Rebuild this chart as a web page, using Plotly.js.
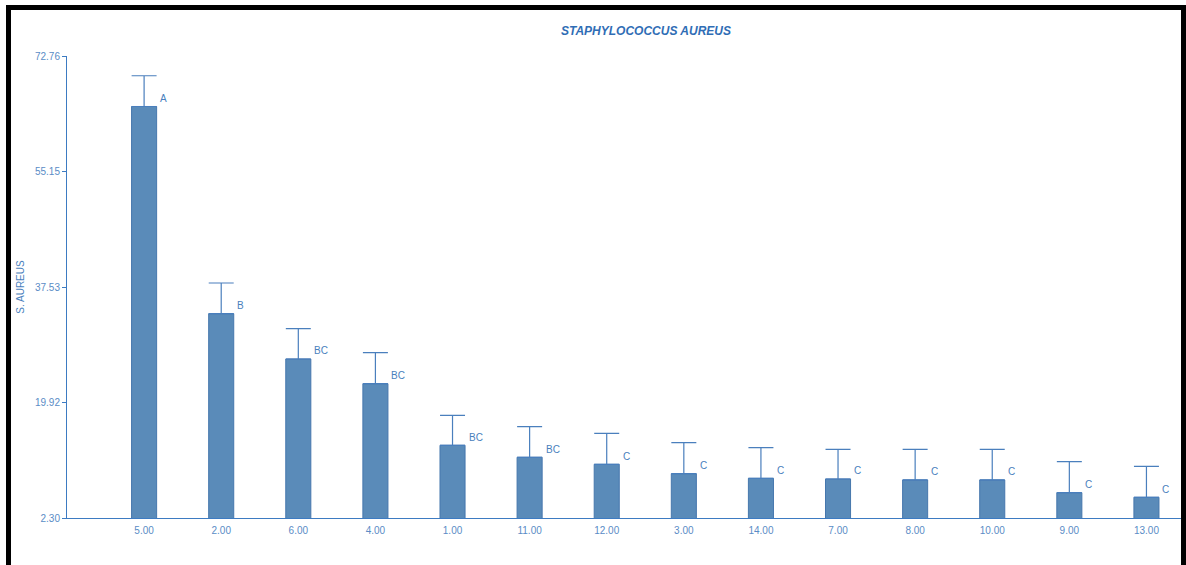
<!DOCTYPE html>
<html>
<head>
<meta charset="utf-8">
<script src="https://cdn.plot.ly/plotly-3.0.1.min.js"></script>
<style>
html,body{margin:0;padding:0;background:#fff;}
#wrap{position:relative;width:1186px;height:565px;overflow:hidden;}
#chart{width:1186px;height:565px;}
#frame{position:absolute;left:6px;top:5px;width:1170px;height:600px;border-top:5px solid #000;border-left:5px solid #000;border-right:5px solid #000;pointer-events:none;}
</style>
</head>
<body>
<div id="wrap">
<div id="chart"></div>
<div id="frame"></div>
</div>
<script>
const categories = ['5.00','2.00','6.00','4.00','1.00','11.00','12.00','3.00','14.00','7.00','8.00','10.00','9.00','13.00'];
const means = [65.06, 33.46, 26.55, 22.78, 13.39, 11.56, 10.49, 9.06, 8.35, 8.25, 8.10, 8.10, 6.16, 5.46];
const errors = [4.69, 4.68, 4.62, 4.73, 4.57, 4.67, 4.72, 4.73, 4.67, 4.52, 4.67, 4.67, 4.73, 4.72];
const letters = ['A','B','BC','BC','BC','BC','C','C','C','C','C','C','C','C'];
const yTicks = [2.30, 19.92, 37.53, 55.15, 72.76];

const blue = '#4a7fbd';
const tickBlue = '#5a8cc6';

const trace = {
  type: 'bar',
  x: categories,
  y: means,
  width: 0.325,
  marker: {color: '#5a8bb9', line: {color: '#4677ad', width: 1}},
  error_y: {
    type: 'data', symmetric: false, array: errors,
    arrayminus: errors.map(() => 0),
    color: '#4a7fbd', thickness: 1.2, width: 12.5
  },
  hoverinfo: 'x+y'
};

const annotations = categories.map((c, i) => ({
  x: i, y: means[i], xref: 'x', yref: 'y',
  text: letters[i], showarrow: false,
  xanchor: 'left', yanchor: 'middle', xshift: 14, yshift: 8,
  font: {family: 'Liberation Sans, Arial, sans-serif', size: 10, color: blue}
}));
annotations.push({
  x: 645/1186, y: 1 - 546/565, xref: 'paper', yref: 'container',
  text: 'TRATAMIENTO', showarrow: false, xanchor: 'center', yanchor: 'middle',
  font: {family: 'Liberation Sans, Arial, sans-serif', size: 10.5, color: blue}
});

const layout = {
  width: 1186, height: 565,
  margin: {l: 67, r: 1, t: 56, b: 47},
  paper_bgcolor: '#fff', plot_bgcolor: '#fff',
  showlegend: false,
  bargap: 0,
  title: {
    text: '<b><i>STAPHYLOCOCCUS AUREUS</i></b>',
    x: 646/1186, xanchor: 'center', xref: 'container',
    y: 1 - 31/565, yanchor: 'middle', yref: 'container',
    font: {family: 'Liberation Sans, Arial, sans-serif', size: 12, color: '#2f6db5'}
  },
  xaxis: {
    type: 'category', categoryorder: 'array', categoryarray: categories,
    range: [-1, 13.5],
    showline: true, linecolor: '#3d7bc2', linewidth: 1,
    showgrid: false, zeroline: false,
    ticks: 'outside', ticklen: 3, tickcolor: 'rgba(0,0,0,0)',
    tickfont: {family: 'Liberation Sans, Arial, sans-serif', size: 10, color: tickBlue}
  },
  yaxis: {
    range: [2.30, 72.76],
    tickvals: yTicks, ticktext: yTicks.map(v => v.toFixed(2)),
    showline: true, linecolor: '#3d7bc2', linewidth: 1,
    showgrid: false, zeroline: false,
    ticks: 'outside', ticklen: 4, tickcolor: '#3d7bc2',
    tickfont: {family: 'Liberation Sans, Arial, sans-serif', size: 10, color: tickBlue},
    title: {text: 'S. AUREUS', standoff: 8,
      font: {family: 'Liberation Sans, Arial, sans-serif', size: 10, color: blue}}
  },
  annotations: annotations
};

Plotly.newPlot('chart', [trace], layout, {displayModeBar: false, staticPlot: true});
</script>
</body>
</html>
